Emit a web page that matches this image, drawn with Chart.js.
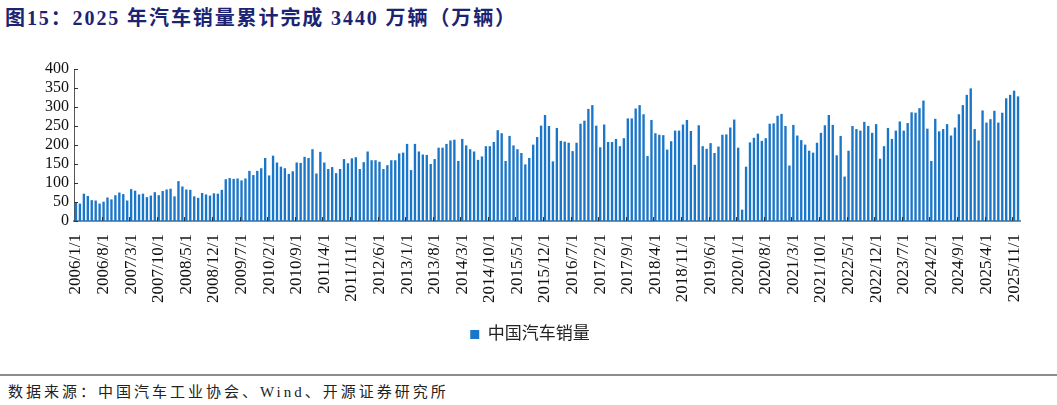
<!DOCTYPE html>
<html>
<head>
<meta charset="utf-8">
<script src="https://cdn.jsdelivr.net/npm/chart.js@4.4.1/dist/chart.umd.min.js"></script>
<style>
  html, body { margin: 0; padding: 0; background: #fff; }
  #wrap { position: relative; width: 1057px; height: 405px; overflow: hidden; }
  #title {
    position: absolute; left: 5px; top: 2px; white-space: nowrap;
    font: bold 20px "Liberation Serif", "Noto Sans CJK SC", serif;
    color: #1b2372; letter-spacing: 1.9px;
  }
  #chartBox { position: absolute; left: 0; top: 35px; width: 1057px; height: 322px; }
  #rule { position: absolute; left: 0; top: 374px; width: 1057px; height: 2px; background: #8c8c8c; }
  #source {
    position: absolute; left: 8px; top: 380px; white-space: nowrap;
    font: 15px "Liberation Serif", "Noto Sans CJK SC", serif;
    color: #222; letter-spacing: 3px;
  }
</style>
</head>
<body>
<div id="wrap">
  <div id="title">图15：2025 年汽车销量累计完成 3440 万辆（万辆）</div>
  <div id="chartBox"><canvas id="salesChart"></canvas></div>
  <div id="rule"></div>
  <div id="source">数据来源：中国汽车工业协会、Wind、开源证券研究所</div>
</div>
<script>
// monthly sales, 万辆, 2006/1 .. 2025/12
const monthlySales = [
  49, 46, 72, 66, 55, 54, 46, 51, 62, 57, 68, 75,        // 2006
  71, 54, 84, 80, 70, 72, 63, 67, 76, 68, 79, 83,        // 2007
  85, 65, 105, 91, 83, 82, 65, 61, 74, 70, 67, 73,       // 2008
  72, 82, 110, 113, 111, 112, 107, 112, 132, 121, 132, 139, // 2009
  166, 120, 172, 154, 143, 139, 124, 131, 154, 153, 169, 166, // 2010
  189, 125, 182, 154, 137, 142, 126, 137, 163, 152, 165, 168, // 2011
  137, 155, 183, 160, 160, 156, 137, 147, 160, 160, 178, 180, // 2012
  203, 134, 203, 183, 175, 174, 150, 163, 193, 193, 203, 212, // 2013
  214, 158, 216, 199, 189, 183, 161, 170, 197, 197, 208, 239, // 2014
  231, 158, 224, 199, 189, 179, 149, 166, 201, 221, 251, 279, // 2015
  250, 157, 245, 211, 209, 206, 184, 206, 256, 264, 295, 305, // 2016
  251, 194, 254, 208, 208, 216, 197, 218, 270, 270, 296, 305, // 2017
  281, 171, 266, 231, 227, 226, 188, 210, 238, 238, 254, 266, // 2018
  237, 148, 252, 197, 190, 205, 179, 196, 227, 228, 246, 267, // 2019
  193, 30, 143, 207, 219, 230, 211, 218, 256, 257, 277, 282,  // 2020
  250, 146, 253, 225, 213, 201, 185, 180, 206, 232, 252, 279, // 2021
  253, 173, 224, 117, 185, 250, 242, 238, 261, 250, 232, 255, // 2022
  164, 197, 245, 216, 238, 262, 238, 258, 286, 285, 297, 317, // 2023
  243, 158, 269, 236, 242, 255, 225, 246, 281, 305, 332, 349, // 2024
  242, 212, 291, 259, 268, 290, 259, 285, 323, 332, 343, 328  // 2025
];
const firstYear = 2006;
const seriesName = '中国汽车销量';
const yTicks = [0, 50, 100, 150, 200, 250, 300, 350, 400];
const labelEvery = 7;

const categories = [];
for (let i = 0; i < monthlySales.length; i++) {
  categories.push((firstYear + Math.floor(i / 12)) + '/' + (i % 12 + 1) + '/1');
}

const serif = '"Liberation Serif", "Times New Roman", serif';
const cjk = '"Liberation Serif", "Noto Sans CJK SC", sans-serif';

// short tick marks pointing into the plot, like the original
const innerTicks = {
  id: 'innerTicks',
  afterDatasetsDraw(chart) {
    const { ctx, chartArea, scales } = chart;
    const x = scales.x, y = scales.y;
    ctx.save();
    ctx.strokeStyle = '#333';
    ctx.lineWidth = 1;
    ctx.beginPath();
    yTicks.forEach(v => {
      const py = Math.round(y.getPixelForValue(v)) + 0.5;
      ctx.moveTo(chartArea.left, py);
      ctx.lineTo(chartArea.left + 4, py);
    });
    const step = (chartArea.right - chartArea.left) / categories.length;
    for (let i = labelEvery; i < categories.length; i += labelEvery) {
      const px = Math.round(x.getPixelForValue(i) - step / 2) + 0.5;
      ctx.moveTo(px, chartArea.bottom);
      ctx.lineTo(px, chartArea.bottom - 4);
    }
    ctx.stroke();
    ctx.restore();
  }
};

new Chart(document.getElementById('salesChart').getContext('2d'), {
  type: 'bar',
  data: {
    labels: categories,
    datasets: [{
      label: seriesName,
      data: monthlySales,
      backgroundColor: '#1a76c9',
      borderWidth: 0,
      barPercentage: 0.6,
      categoryPercentage: 1.0
    }]
  },
  options: {
    responsive: true,
    maintainAspectRatio: false,
    animation: false,
    layout: { padding: { top: 34, left: 40, right: 37, bottom: 4 } },
    plugins: {
      legend: {
        position: 'bottom',
        labels: {
          boxWidth: 9, boxHeight: 9, color: '#222',
          font: { size: 17, family: cjk }
        }
      },
      tooltip: { enabled: false }
    },
    scales: {
      x: {
        grid: { display: false, drawTicks: false },
        border: { display: true, color: '#8a8a8a', width: 2 },
        ticks: {
          autoSkip: false, maxRotation: 90, minRotation: 90, padding: 13,
          color: '#111', font: { size: 17, family: serif },
          callback: (v, i) => (i % labelEvery === 0 ? categories[i] : '')
        }
      },
      y: {
        min: 0, max: 400,
        afterBuildTicks: s => { s.ticks = yTicks.map(v => ({ value: v })); },
        grid: { display: false, drawTicks: false },
        border: { display: true, color: '#555', width: 1 },
        ticks: { autoSkip: false, padding: 5, color: '#111', font: { size: 16, family: serif } }
      }
    }
  },
  plugins: [innerTicks]
});
</script>
</body>
</html>
